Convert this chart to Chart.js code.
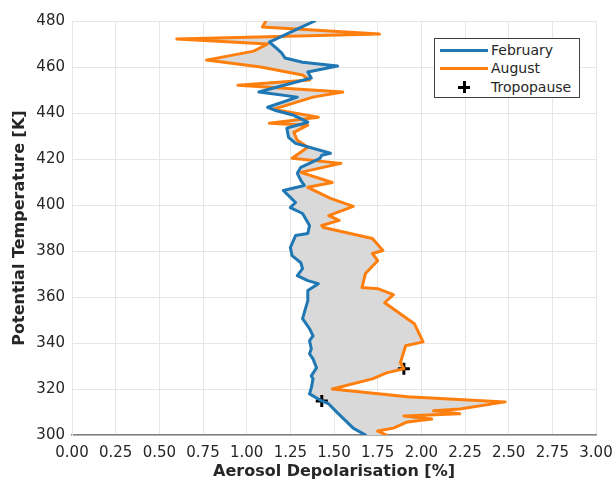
<!DOCTYPE html>
<html>
<head>
<meta charset="utf-8">
<script src="https://cdn.jsdelivr.net/npm/chart.js@4.4.0/dist/chart.umd.min.js"></script>
<style>
  html, body { margin: 0; padding: 0; background: #fff; }
  #wrap { position: relative; width: 615px; height: 481px; }
  #legend {
    position: absolute; left: 434px; top: 38px; width: 144px; height: 58px;
    border: 1px solid #404040; background: #fff;
    font-family: "DejaVu Sans", sans-serif; font-size: 14px; color: #262626;
  }
  .row { position: absolute; left: 0; height: 19px; line-height: 19px; }
  .row .sw { position: absolute; left: 5px; top: 8px; width: 48px; height: 3px; }
  .row .lbl { position: absolute; left: 56px; top: 0; white-space: nowrap; }
  .plus { position: absolute; left: 23px; top: 3px; width: 12px; height: 12px; }
  .plus:before, .plus:after { content: ""; position: absolute; background: #000; }
  .plus:before { left: 4.5px; top: 0; width: 3px; height: 12px; }
  .plus:after { left: 0; top: 4.5px; width: 12px; height: 3px; }
</style>
</head>
<body>
<div id="wrap">
  <canvas id="chart" width="615" height="481"></canvas>
  <div id="legend">
    <div class="row" style="top:2px"><span class="sw" style="background:#1f77b4"></span><span class="lbl">February</span></div>
    <div class="row" style="top:20px"><span class="sw" style="background:#ff7f0e"></span><span class="lbl">August</span></div>
    <div class="row" style="top:39px"><span class="plus"></span><span class="lbl">Tropopause</span></div>
  </div>
</div>
<script>
// Profiles: potential temperature [K] and aerosol depolarisation [%]
const febTheta = [300, 303, 309.6, 313.5, 314.8, 317.9, 320.5, 324.4, 325.7, 329.2, 333.1, 335.3, 337.5, 341, 343.1, 346.2,
  350.6, 358.4, 360.6, 362.8, 365.8, 367.1, 369.3, 372.3, 374.9, 378, 381.5, 386.7, 387.6, 391.1, 392.4, 396.3,
  398.9, 401.1, 403.3, 406.3, 408.5, 410.7, 413.8, 416.4, 420.3, 421.6, 422.5, 426.8, 429.4, 433.4, 436, 439,
  441.2, 442.5, 446.9, 449.1, 451.2, 455.2, 457.8, 460.4, 462.1, 463.9, 466.1, 468.2, 470.8, 476.1, 480];
const febDepol = [1.68, 1.61, 1.52, 1.47, 1.43, 1.36, 1.37, 1.38, 1.37, 1.40, 1.38, 1.36, 1.37, 1.36, 1.38, 1.36,
  1.32, 1.35, 1.35, 1.35, 1.41, 1.35, 1.29, 1.32, 1.31, 1.26, 1.25, 1.28, 1.35, 1.36, 1.35, 1.32,
  1.25, 1.28, 1.25, 1.21, 1.33, 1.31, 1.29, 1.31, 1.42, 1.43, 1.48, 1.28, 1.24, 1.23, 1.35, 1.27,
  1.16, 1.12, 1.29, 1.07, 1.17, 1.37, 1.35, 1.52, 1.32, 1.22, 1.20, 1.17, 1.13, 1.28, 1.39];

const augTheta = [300, 301.7, 303, 305.7, 307, 308.3, 309.2, 310.5, 311.3, 314.4, 316.6, 320, 324.4, 327, 328.8,
  331.4, 338.8, 340.5, 348.4, 357.5, 361, 363.6, 364.1, 370.2, 375.8, 378.9, 380.2, 385.4, 390.2, 391.1,
  393.3, 395.4, 399.4, 402.9, 407.7, 409.8, 414.2, 418.1, 420.3, 425.1, 428.1, 431.6, 434.7, 435.5, 438.2,
  441.6, 446.9, 449.1, 452.1, 454.3, 456.5, 460, 463, 466.9, 470, 472.2, 474.3, 477.4, 480];
const augDepol = [1.80, 1.75, 1.84, 1.92, 2.06, 1.90, 2.22, 2.07, 2.22, 2.48, 1.92, 1.49, 1.72, 1.80, 1.90,
  1.88, 1.91, 2.01, 1.96, 1.79, 1.84, 1.75, 1.66, 1.68, 1.75, 1.72, 1.78, 1.72, 1.44, 1.43,
  1.53, 1.47, 1.61, 1.48, 1.35, 1.49, 1.31, 1.54, 1.26, 1.35, 1.29, 1.27, 1.35, 1.13, 1.41,
  1.15, 1.38, 1.55, 0.95, 1.36, 1.32, 1.08, 0.77, 1.04, 1.12, 0.60, 1.76, 1.09, 1.11];

const tropoTheta = [314.8, 328.8];
const tropoDepol = [1.43, 1.90];

const xTicks = [0, 0.25, 0.5, 0.75, 1, 1.25, 1.5, 1.75, 2, 2.25, 2.5, 2.75, 3];
const yTicks = [300, 320, 340, 360, 380, 400, 420, 440, 460, 480];

const toPoints = (xs, ys) => xs.map((v, i) => ({ x: v, y: ys[i] }));

const gridColor = '#e6e6e6';
const tickFont = { family: 'DejaVu Sans', size: 15 };
const titleFont = { family: 'DejaVu Sans', size: 16, weight: 'bold' };

new Chart(document.getElementById('chart').getContext('2d'), {
  type: 'line',
  data: {
    datasets: [
      {
        label: 'February',
        data: toPoints(febDepol, febTheta),
        borderColor: '#1f77b4',
        borderWidth: 3,
        borderJoinStyle: 'round',
        borderCapStyle: 'round',
        pointRadius: 0,
        tension: 0,
        fill: false
      },
      {
        label: 'August',
        data: toPoints(augDepol, augTheta),
        borderColor: '#ff7f0e',
        backgroundColor: '#d9d9d9',
        borderWidth: 3,
        borderJoinStyle: 'round',
        borderCapStyle: 'round',
        pointRadius: 0,
        tension: 0,
        fill: { target: 0 }
      },
      {
        label: 'Tropopause',
        data: toPoints(tropoDepol, tropoTheta),
        showLine: false,
        pointStyle: 'cross',
        pointRadius: 6,
        pointBorderWidth: 3,
        pointBorderColor: '#000',
        pointBackgroundColor: '#000'
      }
    ]
  },
  options: {
    indexAxis: 'y',
    responsive: false,
    animation: false,
    events: [],
    layout: { padding: { top: 21, right: 19, left: 0, bottom: 0 } },
    plugins: {
      legend: { display: false },
      tooltip: { enabled: false },
      filler: { drawTime: 'beforeDatasetsDraw' }
    },
    scales: {
      x: {
        type: 'linear',
        min: 0,
        max: 3,
        afterBuildTicks: (s) => { s.ticks = xTicks.map(v => ({ value: v })); },
        afterFit: (s) => { s.height = 46; s.paddingLeft = 0; s.paddingRight = 0; },
        grid: { color: gridColor, drawTicks: false },
        border: { color: '#7f7f7f', width: 1.5 },
        ticks: {
          color: '#262626',
          font: tickFont,
          padding: 9,
          maxRotation: 0,
          autoSkip: false,
          callback: (v) => Number(v).toFixed(2)
        },
        title: {
          display: true,
          text: 'Aerosol Depolarisation [%]',
          color: '#262626',
          font: titleFont,
          padding: { top: 0, bottom: 0 }
        }
      },
      y: {
        type: 'linear',
        min: 300,
        max: 480,
        afterBuildTicks: (s) => { s.ticks = yTicks.map(v => ({ value: v })); },
        afterFit: (s) => { s.width = 72; s.paddingTop = 0; s.paddingBottom = 0; },
        grid: { color: gridColor, drawTicks: false },
        border: { color: gridColor },
        ticks: {
          color: '#262626',
          font: tickFont,
          padding: 7,
          autoSkip: false
        },
        title: {
          display: true,
          text: 'Potential Temperature [K]',
          color: '#262626',
          font: titleFont,
          padding: { top: 10, bottom: 0 }
        }
      }
    }
  }
});
</script>
</body>
</html>
